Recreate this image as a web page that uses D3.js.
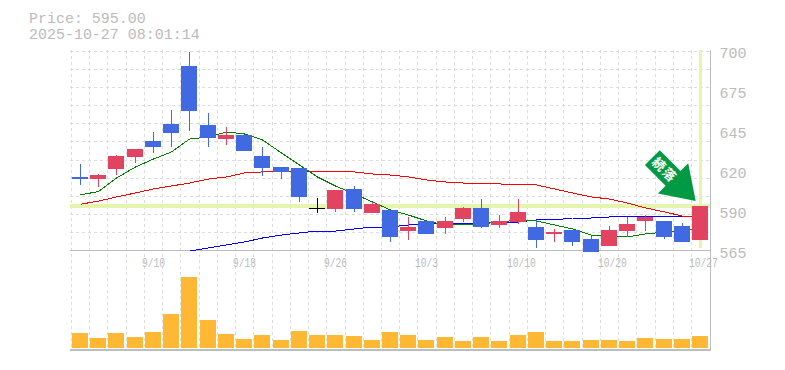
<!DOCTYPE html>
<html><head><meta charset="utf-8">
<script src="https://cdn.jsdelivr.net/npm/d3@7"></script>
<style>html,body{margin:0;padding:0;background:#fff}svg{display:block}</style>
</head><body><svg id="c" width="785" height="370"></svg>
<script>
const dates=["9/4","9/5","9/8","9/9","9/10","9/11","9/12","9/16","9/17","9/18","9/19","9/22","9/24","9/25","9/26","9/29","9/30","10/1","10/2","10/3","10/6","10/7","10/8","10/9","10/10","10/14","10/15","10/16","10/17","10/20","10/21","10/22","10/23","10/24","10/27"];
const tickDates=["9/10","9/18","9/26","10/3","10/10","10/20","10/27"];
const yTicks=[700,675,645,620,590,565];
const bodyTop=[614.3,615.6,628.5,633.2,638.6,650,689.2,649.4,642.6,642.6,628.5,621,620.4,593.4,605.5,606.2,596,592,580.5,584.6,584.6,593.4,593.4,584.6,590.7,580.5,577.2,578.5,572.4,578.5,582.6,587.3,584.6,581.2,595];
const bodyBottom=[613,613,619.7,627.8,634.5,644,658.8,640.6,639.9,631.8,620.4,617.7,600.8,593.4,592.7,592.7,590,573.8,577.8,575.8,579.9,586,580.5,581.9,583.9,571.8,575.8,570.4,563.7,567.7,577.8,584.6,573.8,570.4,571.8];
const high=[623,616.3,629.1,633.2,644.6,659.5,698.7,657.5,648,642.6,634.5,621,620.4,600,605.5,608.2,597.4,592,587.3,584.6,587.3,594,599.4,588.6,599.4,585.3,579.2,578.5,574.4,581.2,587.3,588.6,584.6,583.2,595];
const low=[608.9,607.5,615.6,624,630.5,634.5,645.3,634.5,635.9,631.8,615,613,597.4,590,590.7,590.7,590,570.4,571.8,575.8,575.8,583.9,579.9,579.9,582.6,566.4,570.4,567.7,563.7,567.7,573.8,577.8,572.4,570.4,571.8];
const candleKind=["down","up","up","up","down","down","down","down","up","down","down","down","down","flat","up","down","up","down","up","down","up","up","down","up","up","down","up","down","down","up","up","up","down","down","up"];
const ma5=[602.3,604.4,613.6,621,626.4,631.2,639.9,641.3,644.7,643.3,639.3,630.5,622.4,614.3,608.2,602.8,597.4,592,588.6,584.6,581.9,581.9,582.6,583.9,585.3,584.6,581.9,579.2,575.1,573.8,573.8,575.8,577.2,577.8,580.5];
const ma25=[595.9,598,600.8,603.5,606.2,608.2,610.2,612.9,614.3,617,617.7,617.7,618.3,618.3,617.7,617.7,616.3,615.6,614.3,612.3,610.9,610.2,610.2,609.6,608.9,608.9,606.2,603.5,600.8,599.4,596.7,593.4,590.7,587.9,587.3];
const ma75=[null,null,null,null,null,null,564.3,566.4,568.4,570.4,573.1,575.1,576.5,577.8,577.8,579.2,580.5,580.5,581.9,582.6,583.2,583.2,583.2,583.9,583.9,585.3,585.3,586.6,586.6,587.3,587.3,587.3,587.9,587.9,587.3];
const volume=[1500,1000,1500,1100,1600,3400,7100,2800,1400,900,1300,800,1700,1300,1300,1200,800,1600,1300,800,1100,700,1100,700,1300,1600,700,700,800,800,700,1000,900,900,1200];
const priceLabel="Price: 595.00";
const timeLabel="2025-10-27 08:01:14";
const arrowText="続落";
const lastPrice=595;

const svg=d3.select("#c");
const mono="'Liberation Mono','DejaVu Sans Mono',monospace";
const grey="#bbbbbb";
const idx=d3.range(dates.length);
const xLeft=d3.scaleLinear().domain([0,34]).range([72,692]);
const L=i=>Math.round(xLeft(i));
const y=d3.scaleLinear().domain([700,565]).range([50,250]);
const yLab=d3.scalePoint().domain(yTicks).range([50,250]);
const vy=d3.scaleLinear().domain([0,7100]).range([348,277]);
const cx=i=>L(i)+8.5;

// grid
const grid=svg.append("g").attr("stroke","#dcdcdc").attr("stroke-dasharray","3,3").attr("shape-rendering","crispEdges");
idx.forEach(i=>{const gx=L(i)-1+.5;
  grid.append("line").attr("x1",gx).attr("x2",gx).attr("y1",50).attr("y2",350);});
const hg=d3.scaleLinear().domain([0,11]).range([50.5,250.5]);
d3.range(0,11).forEach(i=>{const gy=Math.round(hg(i))+.5;
  grid.append("line").attr("x1",70).attr("x2",710).attr("y1",gy).attr("y2",gy);});

// frame
const fr=svg.append("g").attr("stroke","#bdbdbd").attr("shape-rendering","crispEdges");
fr.append("line").attr("x1",70).attr("x2",711).attr("y1",250.5).attr("y2",250.5);
fr.append("line").attr("x1",70).attr("x2",711).attr("y1",350).attr("y2",350).attr("stroke-width",2);
fr.append("line").attr("x1",710.5).attr("x2",710.5).attr("y1",50).attr("y2",351);

// current price guides
svg.append("line").attr("x1",70).attr("x2",710).attr("y1",y(lastPrice)).attr("y2",y(lastPrice)).attr("stroke","#e5f5ad").attr("stroke-width",4).attr("shape-rendering","crispEdges");
svg.append("line").attr("x1",cx(34)).attr("x2",cx(34)).attr("y1",50).attr("y2",248).attr("stroke","#e5f5ad").attr("stroke-width",3).attr("shape-rendering","crispEdges");

// moving averages
const lineGen=d3.line().defined(d=>d!=null).x((d,i)=>cx(i)).y(d=>y(d));
[[ma75,"#0000ff"],[ma25,"#ff0000"],[ma5,"#008000"]].forEach(([s,c])=>{
  svg.append("path").attr("d",lineGen(s)).attr("fill","none").attr("stroke",c).attr("stroke-width",1).attr("shape-rendering","crispEdges");
});

// candles
const col={up:"#e24360",down:"#4169e1",flat:"#000000"};
const g=svg.append("g").attr("shape-rendering","crispEdges");
g.selectAll("line").data(idx).join("line").attr("x1",cx).attr("x2",cx).attr("y1",i=>y(high[i])).attr("y2",i=>y(low[i])).attr("stroke",i=>col[candleKind[i]]);
g.selectAll("rect").data(idx).join("rect").attr("x",L).attr("width",16)
 .attr("y",i=>Math.round(y(bodyTop[i]))).attr("height",i=>Math.max(1,Math.round(y(bodyBottom[i]))-Math.round(y(bodyTop[i])))).attr("fill",i=>col[candleKind[i]]);

// volume
svg.append("g").attr("shape-rendering","crispEdges").selectAll("rect").data(idx).join("rect")
 .attr("x",L).attr("width",16).attr("y",i=>vy(volume[i])).attr("height",i=>348-vy(volume[i])).attr("fill","#ffb834");

// x labels
svg.append("g").selectAll("text").data(tickDates).join("text")
 .attr("transform",d=>`translate(${cx(dates.indexOf(d))-11.5},266.5) scale(0.74,1)`)
 .attr("font-family",mono).attr("font-size",13).attr("fill",grey).text(d=>d);
// y labels
svg.append("g").selectAll("text").data(yTicks).join("text").attr("x",719.5).attr("y",d=>yLab(d)+7.5)
 .attr("font-family",mono).attr("font-size",15).attr("fill",grey).text(d=>d);
// title
[[priceLabel,23],[timeLabel,39]].forEach(([t,by])=>{
  svg.append("text").attr("transform",`translate(29,${by}) scale(1.07,1)`).attr("font-family",mono).attr("font-size",14).attr("fill",grey).text(t);
});

// arrow
const ar=svg.append("g").attr("transform","translate(695.7,201) rotate(45)");
ar.append("path").attr("fill","#009944").attr("d","M0,0L-32,-21.4L-32,-10.5L-61.3,-10.5L-61.3,10.5L-32,10.5L-32,21.4Z");
ar.append("text").attr("x",-44).attr("y",0).attr("text-anchor","middle").attr("dy","0.36em").attr("letter-spacing",1.5)
 .attr("font-family","'Noto Sans CJK JP'").attr("font-weight",700).attr("font-size",13).attr("fill","#fff").text(arrowText);
</script></body></html>
